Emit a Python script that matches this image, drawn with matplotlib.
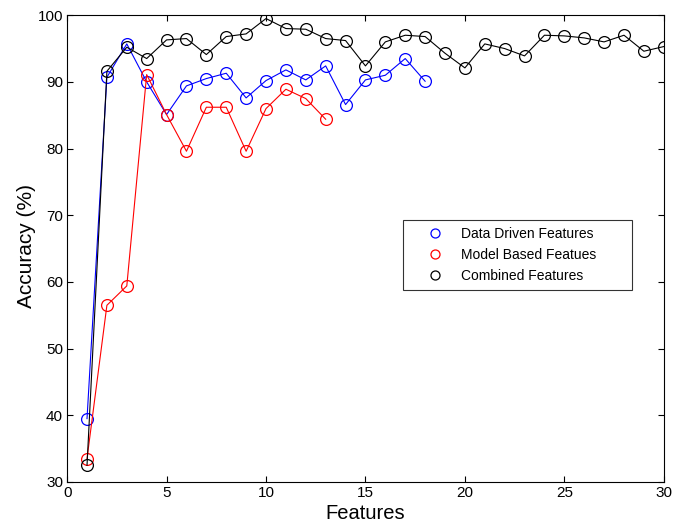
import matplotlib
matplotlib.use('Agg')
import matplotlib.pyplot as plt
from matplotlib.lines import Line2D

plt.rcParams['font.family'] = ['Liberation Sans', 'DejaVu Sans']

# accuracy (%) per number of features
data_driven = [39.5, 90.7, 95.7, 90.0, 85.1, 89.4, 90.5, 91.3, 87.6, 90.2,
               91.8, 90.3, 92.4, 86.6, 90.3, 91.0, 93.5, 90.1]
model_based = [33.5, 56.5, 59.4, 91.1, 85.1, 79.6, 86.2, 86.2, 79.6, 86.0,
               88.9, 87.5, 84.4]
combined = [32.5, 91.6, 95.2, 93.5, 96.3, 96.5, 94.1, 96.8, 97.2, 99.5,
            98.0, 97.9, 96.5, 96.2, 92.4, 96.0, 97.0, 96.8, 94.3, 92.1,
            95.7, 95.0, 93.9, 97.0, 96.9, 96.6, 96.0, 97.0, 94.6, 95.3]
labels = ['Data Driven Features', 'Model Based Featues', 'Combined Features']
colors = ['b', 'r', 'k']

fig = plt.figure(figsize=(6.85, 5.25), dpi=100)
ax = fig.add_axes([0.098, 0.082, 0.871, 0.889])

for series, c in zip([data_driven, model_based, combined], colors):
    x = list(range(1, len(series) + 1))
    ax.plot(x, series, '-', color=c, lw=0.8)
    ax.plot(x, series, 'o', mfc='none', mec=c, ms=8.5, mew=0.9)

ax.set_xlim(0, 30)
ax.set_ylim(30, 100)
ax.set_xticks(range(0, 31, 5))
ax.set_yticks(range(30, 101, 10))
ax.tick_params(direction='in', top=True, right=True, labelsize=11, length=4, pad=3)
for s in ax.spines.values():
    s.set_linewidth(0.8)
ax.set_xlabel('Features', fontsize=14.5, labelpad=3)
ax.set_ylabel('Accuracy (%)', fontsize=15, labelpad=0)
ax.yaxis.set_label_coords(-0.053, 0.505)

handles = [Line2D([], [], ls='none', marker='o', mfc='none', mec=c, ms=6.5, mew=0.9)
           for c in colors]
leg = ax.legend(handles, labels, loc='upper left', bbox_to_anchor=(0.563, 0.561, 0.383, 0.0),
                mode='expand', borderaxespad=0, fontsize=10, frameon=True, fancybox=False,
                handlelength=3.6, handletextpad=0.1, borderpad=0.5, labelspacing=0.5)
leg.get_frame().set_edgecolor('k')
leg.get_frame().set_linewidth(0.8)

fig.savefig('out.png', dpi=100)
